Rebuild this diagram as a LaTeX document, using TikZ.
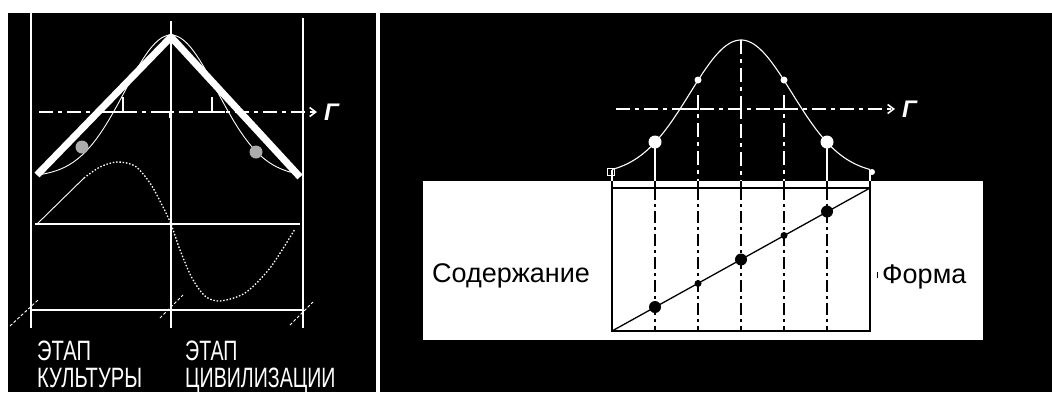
\documentclass[tikz,border=0pt]{standalone}
\usepackage{fontspec}
\setmainfont{Liberation Sans}
\usetikzlibrary{arrows.meta}
\begin{document}
\begin{tikzpicture}[x=1pt,y=-1pt,
  wl/.style={white, line width=1.6pt},
  wthin/.style={white, line width=0.9pt},
  bl/.style={black, line width=1.6pt},
  dashdot/.style={dash pattern=on 14pt off 5pt on 4pt off 5pt},
  vdash/.style={dash pattern=on 12pt off 4pt on 3pt off 4pt},
  tarrow/.style={-{Straight Barb[length=6pt,width=9pt]}},
  lbl/.style={white, font=\fontsize{28}{24}\selectfont, anchor=north west, inner sep=0},
  gam/.style={white, font=\fontsize{24}{24}\selectfont\bfseries\itshape, anchor=west, inner sep=0},
  rtxt/.style={black, font=\fontsize{27}{27}\selectfont, anchor=west, inner sep=0},
]
\useasboundingbox (0,0) rectangle (1052,392);
\fill[white] (0,0) rectangle (1052,392);
% panels
\fill[black] (8,13) rectangle (376,392);
\fill[black] (380,13) rectangle (1052,392);

% ================= LEFT PANEL =================
% verticals
\draw[wl] (31,13) -- (31,328);
\draw[wl] (171,21) -- (171,328);
\draw[wl] (303,18) -- (303,328);
% thin bell curve
\draw[wthin] plot[domain=37:300, samples=90] (\x, {177-142*exp(-((\x-171)/46)^2/2)});
% checkered circles
\fill[gray!65] (82,147) circle[radius=6.5pt];
\fill[gray!65] (256,152) circle[radius=6.5pt];
% thick V
\draw[white, line width=7pt, line join=round] (37,175) -- (171,37) -- (300,177);
% dashed time axis
\coordinate (lT0) at (39,112);
\coordinate (lT1) at (317,112);
\draw[wl, dashdot, tarrow] (lT0) -- (lT1);
\node[gam] (lG) at (324,112) {Г};
% right-angle marks
\draw[wl] (105,112) -| (123,97);
\draw[wl] (157,112) -| (170,118);
\draw[wl] (200,112) -- (225,112);
\draw[wl] (212,112) -- (212,97);
% sine-like curve
\draw[wthin] (37,224) -- (84,178);
\draw[white, line width=1.3pt, dash pattern=on 1.5pt off 1.8pt] plot[smooth] coordinates {(84,178) (100,167) (117,162) (135,166) (150,183) (162,205) (171,224) (180,250) (192,278) (205,296) (220,301) (245,293) (270,268) (295,229)};
% horizontal lines
\draw[wl] (35,224) -- (300,224);
\draw[wl] (31,310) -- (303,310);
% slashes
\draw[wthin, densely dashed] (10,326) -- (38,300);
\draw[wthin, densely dashed] (160,318) -- (183,295);
\draw[wthin, densely dashed] (290,325) -- (313,302);
% labels
\node[lbl] (stage1) at (37,341) {\scalebox{0.72}[1]{\begin{tabular}{@{}l@{}}ЭТАП\\КУЛЬТУРЫ\end{tabular}}};
\node[lbl] (stage2) at (185,341) {\scalebox{0.7}[1]{\begin{tabular}{@{}l@{}}ЭТАП\\ЦИВИЛИЗАЦИИ\end{tabular}}};

% ================= RIGHT PANEL =================
% bell curve
\draw[wthin, line width=1.1pt] plot[domain=612:870, samples=100] (\x, {175-135*exp(-((\x-741)/51)^2/2)});
% end marks
\draw[white, line width=1pt] (607,168) rectangle (614,175);
\fill[white] (872,172) circle[radius=3pt];
% time axis
\coordinate (rT0) at (616,109);
\coordinate (rT1) at (895,109);
\draw[wl, dashdot, tarrow] (rT0) -- (rT1);
\node[gam] (rG) at (902,109) {Г};
\draw[wl] (678,109) -| (698,95);
\draw[wl] (728,109) -| (741,115);
\draw[wl] (774,109) -- (796,109);
% verticals above box
\draw[wl] (612,170) -- (612,181);
\draw[wl] (655,142) -- (655,181);
\draw[wl, dashdot] (698,95) -- (698,181);
\draw[wl, dashdot] (741,40) -- (741,181);
\draw[wl, dashdot] (784,95) -- (784,181);
\draw[wl] (827,142) -- (827,181);
\draw[wl] (870,170) -- (870,181);
% dots on bell
\fill[white] (655,142) circle[radius=6.5pt];
\fill[white] (827,142) circle[radius=6.5pt];
\fill[white] (698,80) circle[radius=3.5pt];
\fill[white] (784,80) circle[radius=3.5pt];
% white box
\fill[white] (423,181) rectangle (983,340);
% inner rectangle
\draw[bl] (612,188) rectangle (870,331);
\foreach \xx in {612,655,698,741,784,827,870} {\draw[bl] (\xx,181) -- (\xx,188);}
\foreach \xx in {655,698,741,784,827} {\draw[black, line width=1.4pt, vdash] (\xx,188) -- (\xx,331);}
\draw[black, line width=1.3pt] (612,331) -- (870,188);
% dots on diagonal
\fill[black] (655,307) circle[radius=6pt];
\fill[black] (698,283.5) circle[radius=3.5pt];
\fill[black] (741,259.5) circle[radius=6pt];
\fill[black] (784,235.5) circle[radius=3.5pt];
\fill[black] (827,211.5) circle[radius=6pt];
% texts
\node[rtxt] (sod) at (432,276) {Содержание};
\draw[black, line width=1pt] (877,272) -- (877,278);
\node[rtxt] (form) at (882,277) {Форма};
\end{tikzpicture}
\end{document}
